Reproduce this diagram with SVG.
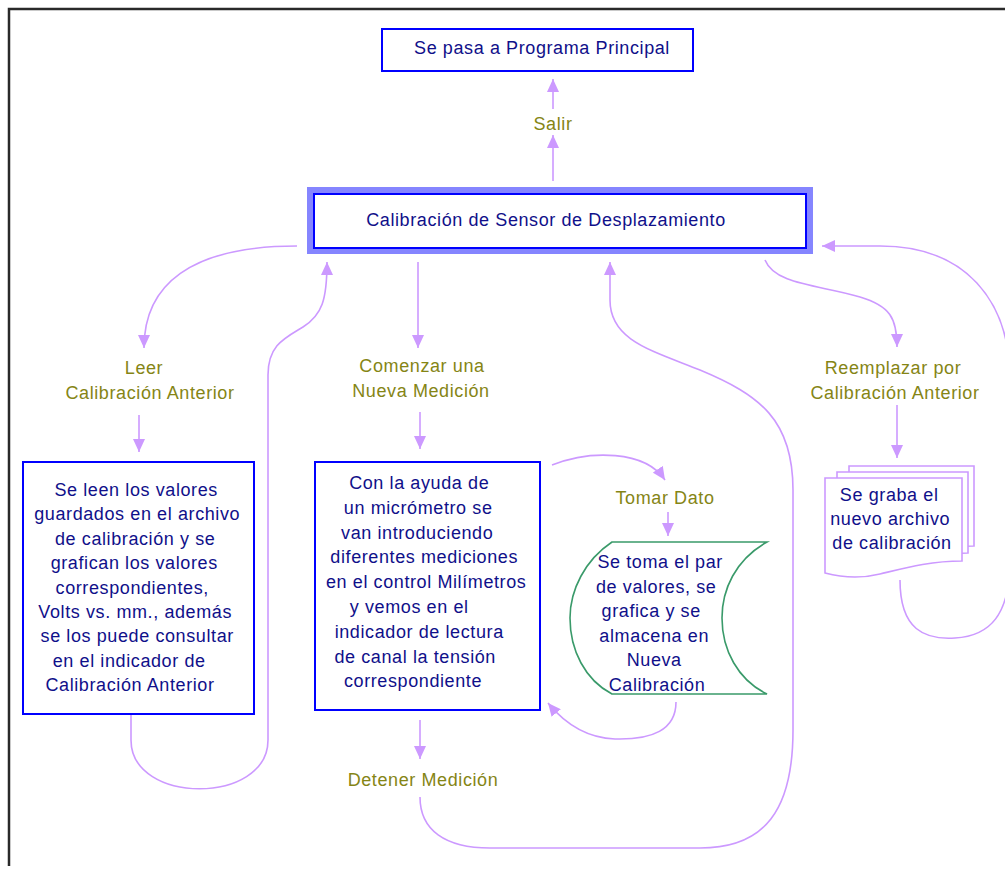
<svg xmlns="http://www.w3.org/2000/svg" width="1005" height="875" viewBox="0 0 1005 875">
  <style>
    .box { fill: #ffffff; stroke: #0000ff; stroke-width: 2; }
    .txt { font-family: "Liberation Sans", Arial, sans-serif; font-size: 18px; letter-spacing: 0.6px; fill: #10108a; text-anchor: middle; }
    .lbl { font-family: "Liberation Sans", Arial, sans-serif; font-size: 18px; letter-spacing: 0.6px; fill: #858515; text-anchor: middle; }
    .conn { fill: none; stroke: #cc99ff; stroke-width: 1.6; marker-end: url(#arrow); }
    .doc { fill: #ffffff; stroke: #cc99ff; stroke-width: 1.6; }
  </style>
  <defs>
    <marker id="arrow" markerUnits="userSpaceOnUse" markerWidth="14" markerHeight="12" refX="13" refY="6" orient="auto">
      <path d="M0,0 L13,6 L0,12 Z" fill="#cc99ff"/>
    </marker>
  </defs>

  <rect width="1005" height="875" fill="#ffffff"/>
  <!-- page frame -->
  <path d="M9,866 L9,9 L1005,9" fill="none" stroke="#2a2a2a" stroke-width="2.5"/>

  <!-- connectors -->
  <g id="connectors">
    <!-- Salir -->
    <path class="conn" d="M553,181 L553,135"/>
    <path class="conn" d="M553,109 L553,79"/>
    <!-- Leer Calibración Anterior -->
    <path class="conn" d="M297,246 C190,246 144,285 144,348"/>
    <path class="conn" d="M139,415 L139,452"/>
    <!-- back from left box -->
    <path class="conn" d="M131,715 L131,740 C131,805 268,805 268,740 L268,375 C268,345 285,338 303,327 C322,315 327,300 327,262"/>
    <!-- Comenzar una Nueva Medición -->
    <path class="conn" d="M418,262 L418,348"/>
    <path class="conn" d="M420,412 L420,449"/>
    <!-- Tomar Dato -->
    <path class="conn" d="M552,465 C590,450 645,450 665,480"/>
    <path class="conn" d="M668,512 L668,536"/>
    <!-- back from tape -->
    <path class="conn" d="M676,702 C676,730 652,740 615,739 C588,738 566,725 548,703"/>
    <!-- Detener Medición -->
    <path class="conn" d="M420,720 L420,759"/>
    <path class="conn" d="M420,797 C420,830 445,848 490,848 L700,848 C765,848 793,810 793,730 L793,490 C793,420 760,395 700,370 C650,350 610,340 610,300 L610,262"/>
    <!-- Reemplazar por Calibración Anterior -->
    <path class="conn" d="M765,260 C775,285 820,285 860,297 C890,306 897,318 897,347"/>
    <path class="conn" d="M897,405 L897,458"/>
    <!-- back from document stack -->
    <path class="conn" d="M900,580 C900,630 925,640 955,638 C990,636 1010,615 1010,560 L1010,380 C1010,300 965,246 880,246 L822,246"/>
  </g>

  <!-- nodes -->
  <g id="node-principal">
    <rect class="box" x="382" y="29" width="311" height="42"/>
    <text class="txt" x="542" y="54">Se pasa a Programa Principal</text>
  </g>

  <g id="label-salir">
    <text class="lbl" x="553" y="130">Salir</text>
  </g>

  <g id="node-calibracion">
    <rect x="307" y="187" width="506" height="67" fill="#8585ff"/>
    <rect class="box" x="314" y="194" width="492" height="54"/>
    <text class="txt" x="546" y="226">Calibración de Sensor de Desplazamiento</text>
  </g>

  <g id="label-leer">
    <text class="lbl" x="144" y="374">Leer</text>
    <text class="lbl" x="150" y="399">Calibración Anterior</text>
  </g>

  <g id="node-leer">
    <rect class="box" x="23" y="462" width="231" height="252"/>
    <text class="txt">
      <tspan x="139" y="496">Se leen los valores</tspan>
      <tspan x="140" y="520.4">guardados en el archivo</tspan>
      <tspan x="138" y="544.8">de calibración y se</tspan>
      <tspan x="137" y="569.2">grafican los valores</tspan>
      <tspan x="135" y="593.6">correspondientes,</tspan>
      <tspan x="138" y="618">Volts vs. mm., además</tspan>
      <tspan x="140" y="642.4">se los puede consultar</tspan>
      <tspan x="132" y="666.8">en el indicador de</tspan>
      <tspan x="130" y="691.2">Calibración Anterior</tspan>
    </text>
  </g>

  <g id="label-comenzar">
    <text class="lbl" x="422" y="372">Comenzar una</text>
    <text class="lbl" x="421" y="397">Nueva Medición</text>
  </g>

  <g id="node-medicion">
    <rect class="box" x="315" y="462" width="225" height="248"/>
    <text class="txt">
      <tspan x="422" y="489">Con la ayuda de</tspan>
      <tspan x="421" y="513.8">un micrómetro se</tspan>
      <tspan x="420" y="538.6">van introduciendo</tspan>
      <tspan x="427" y="563.4">diferentes mediciones</tspan>
      <tspan x="429" y="588.2">en el control Milímetros</tspan>
      <tspan x="412" y="613">y vemos en el</tspan>
      <tspan x="422" y="637.8">indicador de lectura</tspan>
      <tspan x="418" y="662.6">de canal la tensión</tspan>
      <tspan x="413" y="687.4">correspondiente</tspan>
    </text>
  </g>

  <g id="label-tomar">
    <text class="lbl" x="665" y="504">Tomar Dato</text>
  </g>

  <g id="node-tape">
    <path d="M612,542 L767,542 C735,560 722,590 722,618 C722,650 738,680 767,694 L612,694 C585,680 570,650 570,618 C570,590 585,560 612,542 Z" fill="#ffffff" stroke="#3a9a6a" stroke-width="1.6"/>
    <text class="txt">
      <tspan x="663" y="568">Se toma el par</tspan>
      <tspan x="659" y="592.6">de valores, se</tspan>
      <tspan x="654" y="617.2">grafica y se</tspan>
      <tspan x="657" y="641.8">almacena en</tspan>
      <tspan x="657" y="666.4">Nueva</tspan>
      <tspan x="657" y="691">Calibración</tspan>
    </text>
  </g>

  <g id="label-detener">
    <text class="lbl" x="423" y="786">Detener Medición</text>
  </g>

  <g id="label-reemplazar">
    <text class="lbl" x="893" y="374">Reemplazar por</text>
    <text class="lbl" x="895" y="399">Calibración Anterior</text>
  </g>

  <g id="node-grabar">
    <path class="doc" d="M849,466 L974,466 L974,546 C955,546 945,548 935,550 L849,550 Z"/>
    <path class="doc" d="M837,472 L968,472 L968,553 C945,553 930,556 915,560 L837,560 Z"/>
    <path class="doc" d="M825,478 L962,478 L962,561 C930,561 905,568 880,574 C860,579 840,577 825,573 Z"/>
    <text class="txt">
      <tspan x="892" y="501">Se graba el</tspan>
      <tspan x="893" y="525">nuevo archivo</tspan>
      <tspan x="892" y="549">de calibración</tspan>
    </text>
  </g>
</svg>
